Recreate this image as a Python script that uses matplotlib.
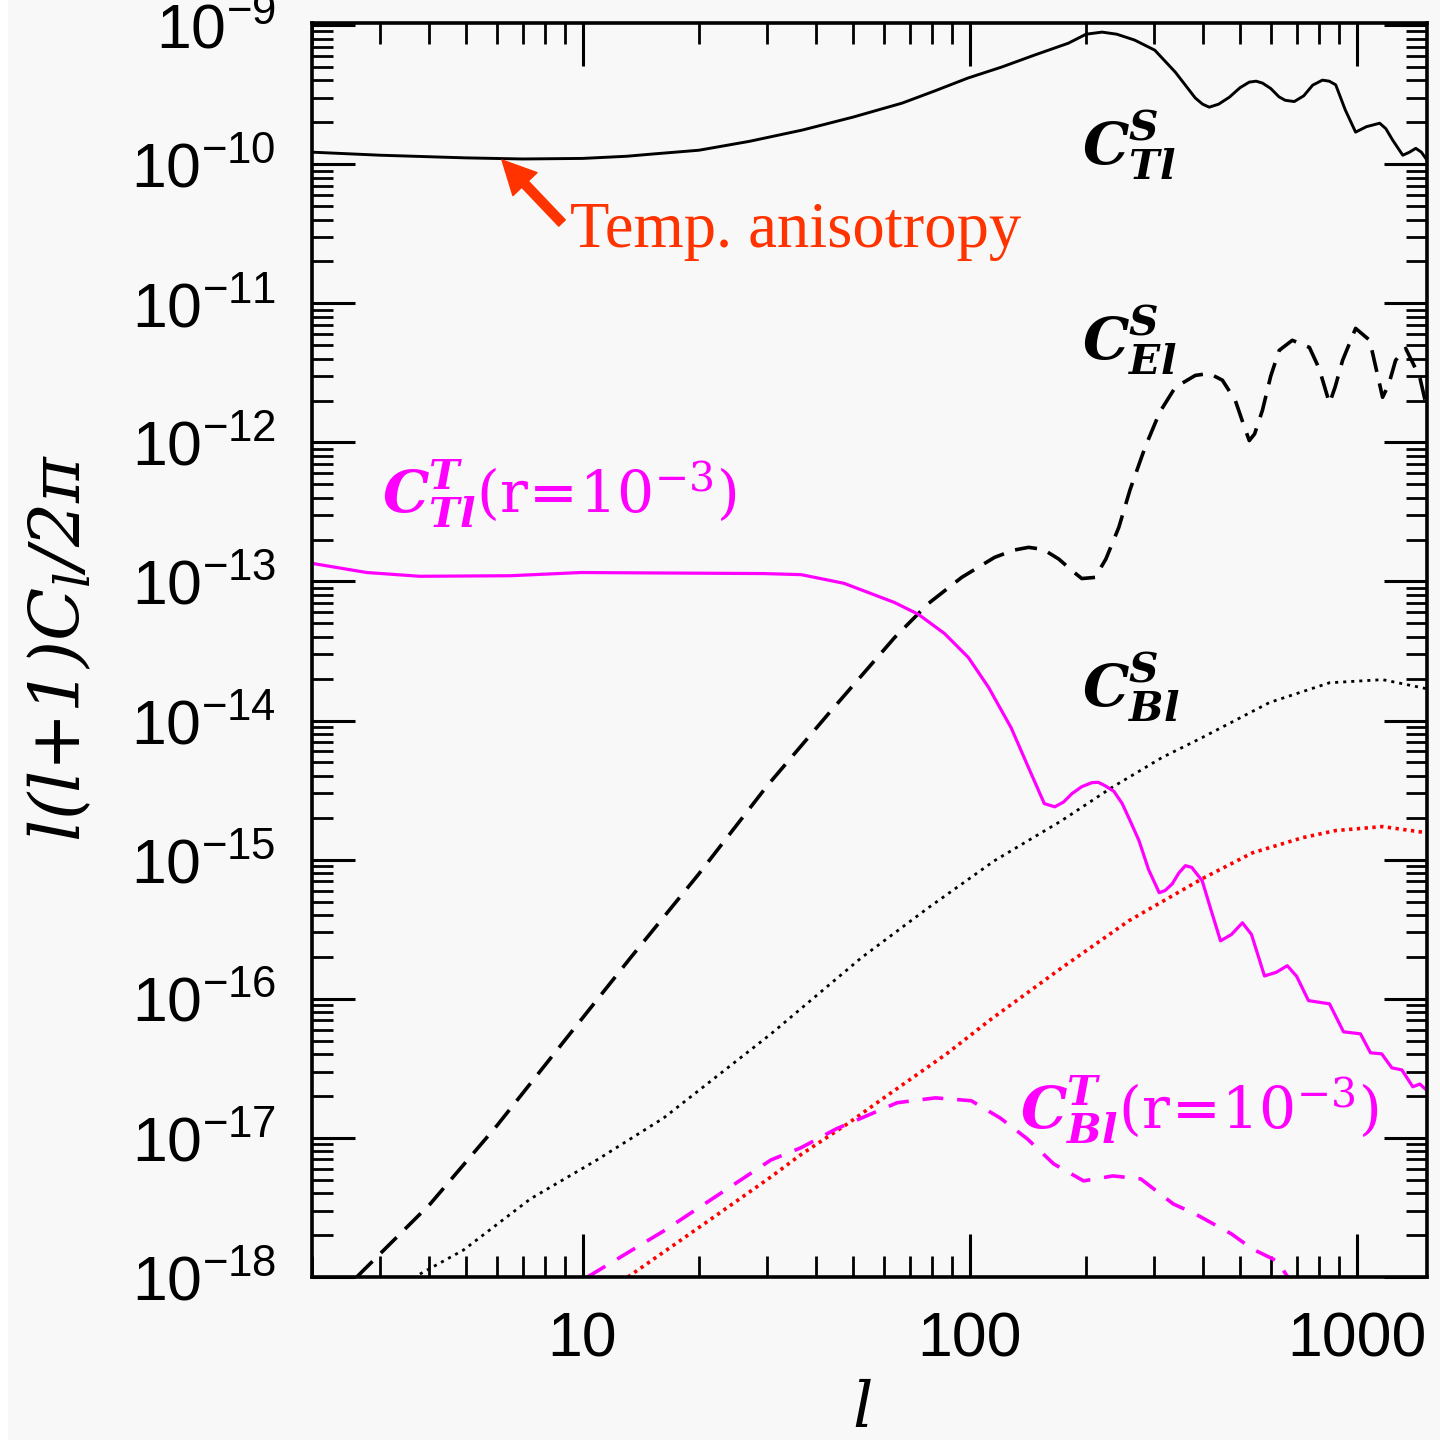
import numpy as np
import matplotlib
matplotlib.use('Agg')
import matplotlib.pyplot as plt
from matplotlib.ticker import FixedLocator, LogLocator, NullFormatter, FuncFormatter
from matplotlib.patches import FancyArrowPatch, Rectangle

# ---------------- data ----------------
l_TT_S = [2, 3, 5, 7, 10, 13, 15, 20, 27, 37, 50, 67, 81, 99, 121, 147, 180, 200, 220,
          240, 267, 301, 340, 383, 400, 416, 440, 469, 500, 528, 550, 571, 600, 630,
          654, 690, 730, 770, 816, 850, 883, 935, 994, 1060, 1147, 1190, 1239, 1316,
          1370, 1422, 1470, 1520]
C_TT_S = [1.22e-10, 1.16e-10, 1.11e-10, 1.09e-10, 1.10e-10, 1.14e-10, 1.18e-10,
          1.26e-10, 1.46e-10, 1.76e-10, 2.18e-10, 2.75e-10, 3.35e-10, 4.16e-10,
          4.99e-10, 6.08e-10, 7.41e-10, 8.6e-10, 8.9e-10, 8.6e-10, 7.8e-10, 6.6e-10,
          4.59e-10, 2.99e-10, 2.70e-10, 2.57e-10, 2.70e-10, 3.03e-10, 3.55e-10,
          3.89e-10, 3.95e-10, 3.83e-10, 3.50e-10, 3.05e-10, 2.88e-10, 2.82e-10,
          3.10e-10, 3.70e-10, 4.02e-10, 3.95e-10, 3.72e-10, 2.45e-10, 1.70e-10,
          1.86e-10, 1.97e-10, 1.80e-10, 1.49e-10, 1.16e-10, 1.22e-10, 1.30e-10,
          1.22e-10, 1.07e-10]

l_EE_S = [2.61, 4.04, 6.03, 8.93, 13.3, 19.9, 30, 43.2, 64, 78.3, 95.4, 116, 130, 142,
          155, 170, 185, 195, 211, 225, 243, 260, 284, 310, 340, 383, 416, 450, 486, 510,
          528, 545, 571, 600, 631, 682, 755, 800, 851, 880, 920, 994, 1081, 1120, 1167,
          1210, 1261, 1339, 1456, 1509]
C_EE_S = [1.0e-18, 3.35e-18, 1.24e-17, 4.9e-17, 1.97e-16, 7.8e-16, 3.4e-15, 1.12e-14,
          3.95e-14, 6.95e-14, 1.07e-13, 1.49e-13, 1.68e-13, 1.76e-13, 1.70e-13,
          1.45e-13, 1.18e-13, 1.05e-13, 1.07e-13, 1.45e-13, 2.45e-13, 4.6e-13, 9.2e-13,
          1.65e-12, 2.49e-12, 3.03e-12, 3.13e-12, 2.8e-12, 2.0e-12, 1.35e-12, 1.03e-12,
          1.15e-12, 1.70e-12, 3.0e-12, 4.59e-12, 5.42e-12, 4.82e-12, 3.4e-12, 1.91e-12,
          2.5e-12, 3.89e-12, 6.6e-12, 5.42e-12, 3.5e-12, 2.11e-12, 2.6e-12, 3.89e-12,
          4.74e-12, 2.94e-12, 1.91e-12]

l_BB_S = [3.8, 4.92, 7.33, 10.9, 16.2, 30.7, 52.5, 78.3, 116, 173, 233, 314, 399, 596,
          851, 1167, 1509]
C_BB_S = [1.05e-18, 1.56e-18, 3.64e-18, 6.95e-18, 1.39e-17, 5.6e-17, 1.97e-16, 4.52e-16,
          9.84e-16, 1.91e-15, 3.30e-15, 5.42e-15, 7.55e-15, 1.35e-14, 1.87e-14, 1.97e-14,
          1.70e-14]

l_BB_red = [13.1, 19.9, 30.7, 36.7, 48.3, 61, 73.8, 87, 114, 173, 258, 399, 538, 725,
            883, 1167, 1520]
C_BB_red = [1.0e-18, 2.25e-18, 5.25e-18, 7.6e-18, 1.26e-17, 2.0e-17, 2.9e-17, 4.0e-17,
            7.18e-17, 1.67e-16, 3.64e-16, 7.3e-16, 1.12e-15, 1.44e-15, 1.62e-15, 1.73e-15,
            1.56e-15]

l_TT_T = [2, 2.77, 3.8, 6.5, 9.9, 29.4, 36.7, 47.4, 64, 73.8, 86.1, 99.3, 112, 128, 142,
          156, 166, 175, 184, 195, 207, 215, 224, 236, 248, 260, 274, 290, 309, 320, 334,
          347, 361, 375, 399, 420, 445, 475, 507, 535, 578, 620, 662, 700, 751, 851, 925,
          1023, 1086, 1161, 1233, 1309, 1397, 1456, 1520]
C_TT_T = [1.35e-13, 1.16e-13, 1.09e-13, 1.10e-13, 1.16e-13, 1.14e-13, 1.12e-13, 9.7e-14,
          7.06e-14, 5.8e-14, 4.23e-14, 2.84e-14, 1.73e-14, 8.9e-15, 4.59e-15, 2.53e-15,
          2.40e-15, 2.6e-15, 2.99e-15, 3.35e-15, 3.58e-15, 3.6e-15, 3.40e-15, 3.1e-15,
          2.53e-15, 1.9e-15, 1.37e-15, 8.5e-16, 5.79e-16, 6.0e-16, 6.71e-16, 8.0e-16,
          9.06e-16, 8.8e-16, 7.06e-16, 4.4e-16, 2.61e-16, 2.9e-16, 3.52e-16, 2.9e-16,
          1.46e-16, 1.55e-16, 1.73e-16, 1.45e-16, 9.7e-17, 9.2e-17, 5.79e-17, 5.6e-17,
          4.09e-17, 4.02e-17, 3.19e-17, 3.08e-17, 2.33e-17, 2.44e-17, 2.19e-17]

l_BB_T = [10.3, 16.2, 30.7, 36.7, 45.2, 65, 81.6, 101, 120, 141, 165, 197, 235, 277, 336,
          383, 475, 538, 624, 667]
C_BB_T = [1.0e-18, 2.14e-18, 6.95e-18, 8.5e-18, 1.16e-17, 1.79e-17, 1.94e-17, 1.85e-17,
          1.39e-17, 9.84e-18, 6.5e-18, 4.91e-18, 5.33e-18, 5.07e-18, 3.35e-18, 2.84e-18,
          2.04e-18, 1.59e-18, 1.30e-18, 0.98e-18]

x_ticks = [10, 100, 1000]
y_ticks = [1e-18, 1e-17, 1e-16, 1e-15, 1e-14, 1e-13, 1e-12, 1e-11, 1e-10, 1e-9]

# ---------------- style ----------------
plt.rcParams['font.family'] = ['Liberation Sans', 'DejaVu Sans']
plt.rcParams['mathtext.fontset'] = 'custom'
plt.rcParams['mathtext.rm'] = 'Liberation Sans'
plt.rcParams['mathtext.it'] = 'DejaVu Serif:italic'
plt.rcParams['mathtext.bf'] = 'DejaVu Serif:bold'
plt.rcParams['mathtext.sf'] = 'DejaVu Serif'
plt.rcParams['mathtext.tt'] = 'DejaVu Serif:italic'
plt.rcParams['mathtext.bfit'] = 'DejaVu Serif:italic:bold'
plt.rcParams['lines.scale_dashes'] = False

W = H = 1440
BG = '#f8f8f8'
MAG = '#ff00ff'
fig = plt.figure(figsize=(14.4, 14.4), dpi=100, facecolor=BG)
fig.patches.append(Rectangle((0, 0), 7 / W, 1, transform=fig.transFigure,
                             color='white', zorder=0))

def fx(px):
    return px / W

def fy(py):
    return 1 - py / H

ax = fig.add_axes([fx(312), fy(1277), fx(1427) - fx(312), fy(23) - fy(1277)])
ax.set_facecolor(BG)
ax.set_xscale('log')
ax.set_yscale('log')

ax.plot(l_TT_S, C_TT_S, color='black', lw=2.1, solid_joinstyle='round')
ax.plot(l_EE_S, C_EE_S, color='black', lw=2.6, linestyle=(0, (16, 8.5)))
ax.plot(l_BB_S, C_BB_S, color='black', lw=2.0, linestyle=(0, (2.2, 3.6)))
ax.plot(l_BB_red, C_BB_red, color='#ff0000', lw=2.6, linestyle=(0, (2.4, 3.2)))
ax.plot(l_TT_T, C_TT_T, color=MAG, lw=2.3, solid_joinstyle='round')
ax.plot(l_BB_T, C_BB_T, color=MAG, lw=2.6, linestyle=(0, (15, 10)))

ax.set_xlim(2, 1520)
ax.set_ylim(1e-18, 1.035e-9)

ax.xaxis.set_major_locator(FixedLocator(x_ticks))
ax.xaxis.set_minor_locator(LogLocator(base=10, subs=np.arange(2, 10), numticks=20))
ax.xaxis.set_minor_formatter(NullFormatter())
ax.xaxis.set_major_formatter(FuncFormatter(lambda v, p: '%d' % round(v)))
ax.yaxis.set_major_locator(FixedLocator(y_ticks))
ax.yaxis.set_minor_locator(LogLocator(base=10, subs=np.arange(2, 10), numticks=30))
ax.yaxis.set_minor_formatter(NullFormatter())
ax.yaxis.set_major_formatter(
    FuncFormatter(lambda v, p: r'$\mathrm{10^{%d}}$' % round(np.log10(v))))

ax.tick_params(which='both', direction='in', top=True, right=True, colors='black')
ax.tick_params(which='major', length=31, width=2.2, labelsize=45)
ax.tick_params(which='minor', length=15, width=2.0)
ax.tick_params(axis='x', which='major', pad=24)
ax.tick_params(axis='y', which='major', pad=26)
for s in ax.spines.values():
    s.set_linewidth(2.6)

# axis labels
fig.text(fx(60), fy(648), r'$\mathtt{l(l{+}1)C_l/2\pi}$', rotation=90,
         ha='center', va='center', fontsize=50)
fig.text(fx(862), fy(1410), r'$\mathtt{l}$', ha='center', va='center', fontsize=46)

# curve labels
fig.text(fx(1082), fy(165), r'$\mathbfit{C^{S}_{Tl}}$', fontsize=42, va='baseline')
fig.text(fx(1082), fy(360), r'$\mathbfit{C^{S}_{El}}$', fontsize=42, va='baseline')
fig.text(fx(1082), fy(707), r'$\mathbfit{C^{S}_{Bl}}$', fontsize=42, va='baseline')
fig.text(fx(382), fy(512), r'$\mathbfit{C^{T}_{Tl}}\mathsf{(r\!=\!10^{-3})}$',
         fontsize=42, va='baseline', color=MAG)
fig.text(fx(1020), fy(1128), r'$\mathbfit{C^{T}_{Bl}}\mathsf{(r\!=\!10^{-3})}$',
         fontsize=42, va='baseline', color=MAG)

# annotation
RED = '#ff3300'
fig.text(fx(570), fy(247), 'Temp. anisotropy', family='Liberation Serif',
         fontsize=46.5, color=RED, va='baseline', ha='left')
arr = FancyArrowPatch(posA=(fx(562), fy(223)), posB=(fx(502), fy(160)),
                      transform=fig.transFigure,
                      arrowstyle='simple,head_length=24,head_width=24,tail_width=6.5',
                      mutation_scale=1, color=RED, shrinkA=0, shrinkB=0)
fig.patches.append(arr)

fig.savefig('out.png', dpi=100, facecolor=BG)
